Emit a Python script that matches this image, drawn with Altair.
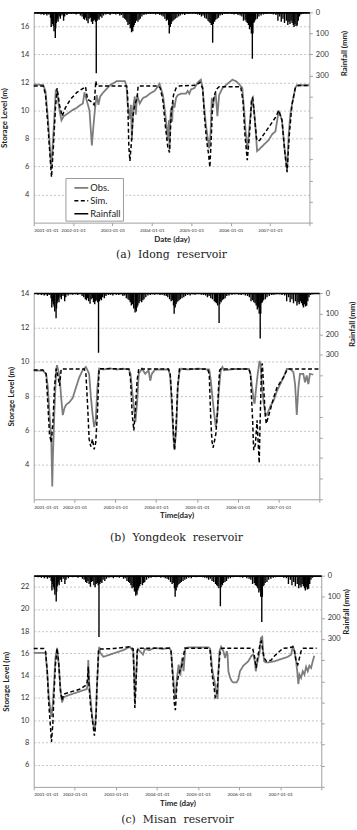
import altair as alt
import pandas as pd

SERIES = ["Obs.", "Sim.", "Rainfall"]
COLORS = ["#7d7d7d", "#000000", "#000000"]
DASHES = [[1, 0], [4, 2.5], [1, 0]]

# ---------------- Rainfall (shared, mm) ----------------
rain = [
    ("2001-01-15", 5), ("2001-02-10", 8), ("2001-02-25", 4), ("2001-03-10", 10), ("2001-03-22", 6),
    ("2001-04-05", 12), ("2001-04-20", 7), ("2001-05-03", 15), ("2001-05-20", 10), ("2001-06-05", 25),
    ("2001-06-12", 70), ("2001-06-18", 40), ("2001-06-25", 55), ("2001-07-02", 65), ("2001-07-08", 90),
    ("2001-07-20", 122), ("2001-07-24", 75), ("2001-07-29", 50), ("2001-08-03", 40), ("2001-08-08", 30),
    ("2001-08-15", 45), ("2001-08-25", 20), ("2001-09-05", 30), ("2001-09-20", 15), ("2001-10-05", 40),
    ("2001-10-15", 20), ("2001-11-05", 12), ("2001-11-25", 6), ("2001-12-15", 8),
    ("2002-01-10", 6), ("2002-01-30", 10), ("2002-02-20", 5), ("2002-03-10", 15), ("2002-03-25", 20),
    ("2002-04-08", 30), ("2002-04-18", 35), ("2002-04-28", 25), ("2002-05-08", 40), ("2002-05-20", 52),
    ("2002-05-30", 30), ("2002-06-10", 25), ("2002-06-20", 45), ("2002-07-01", 55), ("2002-07-10", 40),
    ("2002-07-20", 35), ("2002-07-28", 45), ("2002-08-04", 290), ("2002-08-12", 40), ("2002-08-20", 30),
    ("2002-08-30", 35), ("2002-09-10", 20), ("2002-09-25", 25), ("2002-10-10", 15), ("2002-11-01", 10),
    ("2002-11-20", 8), ("2002-12-10", 12),
    ("2003-01-10", 8), ("2003-02-01", 10), ("2003-02-20", 6), ("2003-03-10", 15), ("2003-03-25", 12),
    ("2003-04-10", 25), ("2003-04-25", 30), ("2003-05-05", 35), ("2003-05-15", 45), ("2003-05-25", 60),
    ("2003-06-05", 55), ("2003-06-15", 75), ("2003-06-27", 95), ("2003-07-02", 80), ("2003-07-08", 90),
    ("2003-07-15", 70), ("2003-07-22", 60), ("2003-08-01", 50), ("2003-08-10", 40), ("2003-08-25", 45),
    ("2003-09-05", 35), ("2003-09-15", 30), ("2003-10-01", 20), ("2003-10-20", 12), ("2003-11-10", 10),
    ("2003-12-01", 6), ("2003-12-20", 8),
    ("2004-01-15", 6), ("2004-02-05", 10), ("2004-02-25", 8), ("2004-03-15", 12), ("2004-04-01", 15),
    ("2004-04-15", 20), ("2004-05-01", 30), ("2004-05-15", 40), ("2004-05-25", 35), ("2004-06-05", 60),
    ("2004-06-11", 100), ("2004-06-20", 70), ("2004-06-28", 55), ("2004-07-05", 45), ("2004-07-15", 40),
    ("2004-07-25", 35), ("2004-08-05", 30), ("2004-08-20", 25), ("2004-09-05", 20), ("2004-09-20", 15),
    ("2004-10-10", 10), ("2004-11-01", 12), ("2004-11-25", 6), ("2004-12-15", 8),
    ("2005-01-15", 5), ("2005-02-10", 8), ("2005-03-01", 10), ("2005-03-20", 12), ("2005-04-05", 20),
    ("2005-04-20", 15), ("2005-05-05", 25), ("2005-05-20", 30), ("2005-06-05", 40), ("2005-06-15", 45),
    ("2005-06-25", 50), ("2005-07-05", 60), ("2005-07-18", 145), ("2005-07-24", 55), ("2005-07-30", 40),
    ("2005-08-05", 45), ("2005-08-15", 35), ("2005-08-28", 30), ("2005-09-10", 25), ("2005-09-25", 15),
    ("2005-10-15", 12), ("2005-11-10", 8), ("2005-12-05", 6),
    ("2006-01-10", 8), ("2006-02-01", 10), ("2006-02-20", 6), ("2006-03-10", 12), ("2006-03-30", 15),
    ("2006-04-15", 20), ("2006-04-30", 40), ("2006-05-15", 35), ("2006-05-25", 45), ("2006-06-05", 50),
    ("2006-06-15", 60), ("2006-06-25", 80), ("2006-07-05", 70), ("2006-07-12", 100), ("2006-07-21", 220),
    ("2006-07-26", 100), ("2006-08-02", 50), ("2006-08-10", 45), ("2006-08-20", 35), ("2006-09-05", 30),
    ("2006-09-20", 20), ("2006-10-10", 15), ("2006-11-01", 10), ("2006-11-20", 8), ("2006-12-10", 6),
    ("2007-01-10", 6), ("2007-02-01", 10), ("2007-02-25", 12), ("2007-03-15", 40), ("2007-04-01", 20),
    ("2007-04-15", 45), ("2007-05-01", 30), ("2007-05-15", 50), ("2007-06-01", 40), ("2007-06-15", 60),
    ("2007-06-25", 45), ("2007-07-05", 55), ("2007-07-15", 40), ("2007-07-25", 50), ("2007-08-05", 60),
    ("2007-08-12", 70), ("2007-08-20", 55), ("2007-08-30", 65), ("2007-09-10", 62), ("2007-09-20", 40),
    ("2007-10-01", 20), ("2007-10-15", 10), ("2007-11-05", 6), ("2007-12-01", 5),
]

# ---------------- (a) Idong reservoir ----------------
obs_a = [
    ("2001-01-01", 11.86), ("2001-03-30", 11.82), ("2001-04-20", 11.4), ("2001-05-12", 9.5), ("2001-05-30", 7.5),
    ("2001-06-12", 5.9), ("2001-06-20", 6.8), ("2001-07-06", 8.8), ("2001-07-25", 11.5), ("2001-08-06", 11.3),
    ("2001-08-22", 10.3), ("2001-09-15", 9.3), ("2001-10-07", 9.6), ("2001-11-15", 9.8), ("2001-12-20", 10.0),
    ("2002-02-06", 10.2), ("2002-02-21", 10.3), ("2002-04-02", 10.5), ("2002-04-17", 11.3), ("2002-05-08", 10.7),
    ("2002-06-02", 10.0), ("2002-06-24", 7.5), ("2002-07-10", 9.0), ("2002-07-24", 10.2), ("2002-08-09", 11.1),
    ("2002-08-24", 10.4), ("2002-09-09", 11.0), ("2002-10-09", 11.3), ("2002-12-10", 11.8), ("2003-02-09", 12.1),
    ("2003-04-26", 12.1), ("2003-05-12", 11.7), ("2003-05-21", 10.5), ("2003-06-12", 9.4), ("2003-06-21", 10.4),
    ("2003-06-30", 7.9), ("2003-07-12", 10.2), ("2003-07-27", 11.0), ("2003-08-05", 9.7), ("2003-08-18", 11.1),
    ("2003-09-11", 10.5), ("2003-10-12", 10.9), ("2003-11-11", 11.0), ("2003-12-12", 11.2), ("2004-01-27", 11.4),
    ("2004-03-13", 11.9), ("2004-04-13", 11.1), ("2004-05-07", 9.6), ("2004-05-28", 7.9), ("2004-06-07", 9.3),
    ("2004-06-13", 7.2), ("2004-06-20", 9.3), ("2004-06-28", 10.2), ("2004-07-08", 9.2), ("2004-07-14", 10.6),
    ("2004-07-29", 10.2), ("2004-08-13", 10.9), ("2004-08-29", 11.1), ("2004-09-28", 11.2), ("2004-11-13", 11.2),
    ("2004-11-28", 11.4), ("2004-12-14", 11.2), ("2004-12-29", 11.5), ("2005-01-30", 11.6), ("2005-03-01", 12.0),
    ("2005-03-31", 12.2), ("2005-04-16", 11.6), ("2005-05-01", 10.2), ("2005-05-16", 9.0), ("2005-06-01", 8.1),
    ("2005-06-16", 7.3), ("2005-06-28", 8.3), ("2005-07-04", 9.5), ("2005-07-10", 10.9), ("2005-07-22", 10.2),
    ("2005-07-31", 10.9), ("2005-08-16", 11.1), ("2005-08-31", 9.6), ("2005-09-16", 11.1), ("2005-10-17", 11.6),
    ("2005-12-02", 11.9), ("2006-01-17", 12.2), ("2006-02-17", 12.1), ("2006-03-19", 11.9), ("2006-04-19", 11.6),
    ("2006-05-04", 10.2), ("2006-05-19", 8.6), ("2006-06-04", 7.2), ("2006-06-20", 8.5), ("2006-07-04", 9.6),
    ("2006-07-19", 10.9), ("2006-08-04", 10.2), ("2006-08-19", 8.8), ("2006-09-03", 7.1), ("2006-09-18", 7.2),
    ("2006-12-20", 7.9), ("2007-01-20", 8.3), ("2007-02-20", 8.5), ("2007-03-23", 10.0), ("2007-04-22", 9.3),
    ("2007-05-08", 7.9), ("2007-05-17", 7.2), ("2007-06-08", 5.7), ("2007-06-23", 8.3), ("2007-07-08", 9.7),
    ("2007-07-23", 10.4), ("2007-08-08", 11.0), ("2007-08-23", 11.6), ("2007-09-07", 11.8), ("2007-12-31", 11.8),
]
sim_a = [
    ("2001-01-01", 11.74), ("2001-03-30", 11.74), ("2001-04-20", 11.15), ("2001-05-12", 9.0), ("2001-05-30", 7.0),
    ("2001-06-15", 5.25), ("2001-06-30", 7.1), ("2001-07-22", 10.2), ("2001-08-06", 11.6), ("2001-08-28", 10.4),
    ("2001-09-22", 9.6), ("2001-10-22", 10.2), ("2001-12-08", 10.8), ("2002-02-06", 11.3), ("2002-04-08", 11.6),
    ("2002-04-26", 11.7), ("2002-05-15", 10.8), ("2002-06-24", 10.6), ("2002-07-15", 10.4), ("2002-07-31", 12.1),
    ("2002-08-09", 11.75), ("2003-05-12", 11.75), ("2003-05-21", 11.2), ("2003-06-02", 7.4), ("2003-06-12", 6.4),
    ("2003-06-27", 7.85), ("2003-07-12", 9.7), ("2003-07-27", 10.4), ("2003-08-18", 10.9), ("2003-08-27", 11.75),
    ("2004-02-27", 11.75), ("2004-03-19", 11.6), ("2004-04-13", 10.7), ("2004-05-07", 8.8), ("2004-05-28", 7.4),
    ("2004-06-13", 7.0), ("2004-06-28", 9.7), ("2004-07-20", 11.1), ("2004-08-13", 11.6), ("2004-09-13", 11.75),
    ("2005-02-14", 11.8), ("2005-03-22", 12.0), ("2005-04-16", 11.6), ("2005-05-04", 9.5), ("2005-05-23", 7.85),
    ("2005-06-10", 6.9), ("2005-06-22", 5.95), ("2005-07-04", 7.85), ("2005-07-16", 10.2), ("2005-07-31", 11.0),
    ("2005-08-22", 11.5), ("2005-09-16", 11.7), ("2006-04-04", 11.7), ("2006-04-25", 10.7), ("2006-05-13", 8.3),
    ("2006-06-04", 6.45), ("2006-06-25", 8.3), ("2006-07-13", 10.7), ("2006-07-25", 10.9), ("2006-08-13", 9.3),
    ("2006-08-31", 7.85), ("2006-09-25", 7.85), ("2006-12-20", 8.8), ("2007-02-20", 9.5), ("2007-03-23", 10.0),
    ("2007-04-22", 9.3), ("2007-05-17", 7.1), ("2007-06-08", 5.6), ("2007-06-29", 8.3), ("2007-07-23", 10.4),
    ("2007-08-23", 11.6), ("2007-09-22", 11.79), ("2007-12-31", 11.79),
]

# ---------------- (b) Yongdeok reservoir ----------------
obs_b = [
    ("2001-01-01", 9.48), ("2001-03-25", 9.48), ("2001-04-22", 9.3), ("2001-05-08", 8.5), ("2001-05-22", 7.0),
    ("2001-06-07", 5.5), ("2001-06-16", 2.75), ("2001-06-22", 4.5), ("2001-07-06", 7.3), ("2001-07-21", 9.5),
    ("2001-07-28", 9.8), ("2001-08-20", 9.2), ("2001-09-04", 7.9), ("2001-09-18", 6.9), ("2001-10-03", 7.3),
    ("2001-10-18", 7.5), ("2001-11-17", 7.65), ("2001-12-16", 7.9), ("2002-01-14", 8.5), ("2002-02-13", 9.1),
    ("2002-03-14", 9.5), ("2002-04-13", 9.7), ("2002-05-12", 9.3), ("2002-05-27", 8.0), ("2002-06-11", 7.0),
    ("2002-06-26", 6.2), ("2002-07-10", 6.6), ("2002-07-25", 8.5), ("2002-08-09", 9.6), ("2002-09-20", 9.55),
    ("2002-11-10", 9.62), ("2003-01-15", 9.55), ("2003-03-10", 9.6), ("2003-05-03", 9.55), ("2003-05-17", 9.3),
    ("2003-06-01", 8.3), ("2003-06-16", 7.4), ("2003-06-30", 6.5), ("2003-07-15", 7.6), ("2003-07-30", 9.3),
    ("2003-08-28", 9.6), ("2003-09-26", 9.3), ("2003-10-26", 9.5), ("2003-11-10", 8.9), ("2003-11-24", 9.3),
    ("2003-12-24", 9.55), ("2004-04-21", 9.55), ("2004-05-06", 9.2), ("2004-05-21", 7.5), ("2004-06-05", 5.5),
    ("2004-06-14", 4.9), ("2004-06-29", 6.0), ("2004-07-13", 8.5), ("2004-07-28", 9.4), ("2004-08-12", 9.6),
    ("2004-10-10", 9.55), ("2005-01-10", 9.6), ("2005-04-21", 9.55), ("2005-05-05", 8.9), ("2005-05-20", 7.9),
    ("2005-06-04", 7.0), ("2005-06-19", 6.2), ("2005-07-03", 7.0), ("2005-07-18", 8.5), ("2005-08-02", 9.5),
    ("2005-08-17", 9.7), ("2005-09-01", 9.5), ("2005-12-01", 9.58), ("2006-04-11", 9.58), ("2006-04-25", 9.3),
    ("2006-05-10", 8.5), ("2006-05-24", 7.75), ("2006-06-01", 7.56), ("2006-06-15", 8.5), ("2006-06-29", 9.3),
    ("2006-07-15", 10.05), ("2006-07-25", 9.86), ("2006-08-06", 8.5), ("2006-08-21", 7.6), ("2006-09-05", 7.0),
    ("2006-09-19", 6.9), ("2006-10-19", 7.4), ("2006-11-18", 7.75), ("2006-12-18", 8.3), ("2007-01-16", 8.7),
    ("2007-02-15", 9.1), ("2007-03-16", 9.58), ("2007-04-15", 9.58), ("2007-05-14", 9.4), ("2007-05-29", 8.7),
    ("2007-06-05", 7.9), ("2007-06-13", 6.9), ("2007-06-28", 8.5), ("2007-07-12", 9.3), ("2007-08-11", 9.3),
    ("2007-08-26", 8.8), ("2007-09-10", 9.2), ("2007-09-25", 8.7), ("2007-10-09", 9.3), ("2007-11-08", 9.25),
]
sim_b = [
    ("2001-01-01", 9.52), ("2001-03-25", 9.52), ("2001-04-22", 9.3), ("2001-05-08", 7.5), ("2001-05-22", 5.8),
    ("2001-06-07", 5.3), ("2001-06-22", 6.5), ("2001-07-06", 8.5), ("2001-07-21", 9.6), ("2001-08-05", 9.2),
    ("2001-08-20", 8.6), ("2001-09-04", 9.58), ("2002-03-29", 9.58), ("2002-04-13", 9.3), ("2002-04-28", 7.5),
    ("2002-05-12", 5.5), ("2002-05-27", 5.06), ("2002-06-11", 5.5), ("2002-06-26", 4.9), ("2002-07-10", 5.3),
    ("2002-07-25", 7.0), ("2002-08-09", 9.6), ("2003-05-03", 9.58), ("2003-05-17", 9.0), ("2003-06-01", 7.0),
    ("2003-06-16", 6.0), ("2003-06-30", 7.2), ("2003-07-15", 8.9), ("2003-07-30", 9.58), ("2004-04-21", 9.58),
    ("2004-05-06", 9.3), ("2004-05-21", 7.9), ("2004-06-05", 5.8), ("2004-06-14", 4.86), ("2004-06-29", 6.4),
    ("2004-07-13", 8.6), ("2004-07-28", 9.58), ("2005-04-06", 9.58), ("2005-04-21", 9.3), ("2005-04-28", 7.9),
    ("2005-05-05", 6.6), ("2005-05-15", 5.4), ("2005-05-25", 5.0), ("2005-06-04", 5.3), ("2005-06-19", 5.8),
    ("2005-07-03", 7.0), ("2005-07-13", 8.5), ("2005-07-23", 9.5), ("2005-08-02", 9.58), ("2006-04-11", 9.58),
    ("2006-04-25", 9.3), ("2006-05-05", 7.8), ("2006-05-15", 6.5), ("2006-05-20", 5.44), ("2006-05-24", 4.86),
    ("2006-06-08", 5.2), ("2006-06-23", 6.6), ("2006-07-02", 5.4), ("2006-07-12", 4.1), ("2006-07-18", 5.9),
    ("2006-07-28", 8.5), ("2006-08-03", 9.7), ("2006-08-09", 9.9), ("2006-08-21", 8.5), ("2006-09-05", 6.8),
    ("2006-09-14", 6.4), ("2006-10-19", 7.2), ("2006-11-18", 7.9), ("2006-12-18", 8.5), ("2007-01-16", 8.8),
    ("2007-02-15", 9.1), ("2007-03-16", 9.5), ("2007-03-31", 9.58), ("2007-12-31", 9.58),
]

# ---------------- (c) Misan reservoir ----------------
obs_c = [
    ("2001-01-01", 16.05), ("2001-04-16", 16.05), ("2001-05-01", 14.4), ("2001-05-15", 12.06), ("2001-05-30", 10.9),
    ("2001-06-08", 10.3), ("2001-06-20", 11.5), ("2001-06-29", 13.0), ("2001-07-13", 15.6), ("2001-07-28", 16.5),
    ("2001-08-12", 15.0), ("2001-08-27", 12.65), ("2001-09-10", 11.6), ("2001-09-25", 12.06), ("2001-10-24", 12.2),
    ("2001-12-22", 12.4), ("2002-02-19", 12.6), ("2002-04-18", 12.8), ("2002-04-26", 13.3), ("2002-05-01", 15.4),
    ("2002-05-08", 13.5), ("2002-05-20", 12.06), ("2002-06-05", 10.3), ("2002-06-14", 9.7), ("2002-06-24", 9.1),
    ("2002-07-01", 9.4), ("2002-07-10", 10.9), ("2002-07-15", 12.65), ("2002-07-24", 14.4), ("2002-08-01", 16.2),
    ("2002-08-07", 16.6), ("2002-08-13", 16.1), ("2002-09-12", 15.7), ("2002-12-10", 16.0), ("2003-03-08", 16.3),
    ("2003-05-06", 16.6), ("2003-06-04", 16.2), ("2003-06-12", 14.4), ("2003-06-19", 11.8), ("2003-06-26", 13.5),
    ("2003-07-03", 14.4), ("2003-07-10", 16.2), ("2003-07-17", 16.4), ("2003-08-30", 15.9), ("2003-09-15", 16.4),
    ("2003-10-28", 16.3), ("2003-12-10", 16.5), ("2004-02-22", 16.4), ("2004-04-21", 16.5), ("2004-05-06", 16.2),
    ("2004-05-20", 14.4), ("2004-06-04", 12.65), ("2004-06-13", 11.9), ("2004-06-27", 13.8), ("2004-07-12", 15.0),
    ("2004-07-27", 14.0), ("2004-08-11", 15.6), ("2004-08-25", 14.4), ("2004-09-09", 16.5), ("2004-10-08", 16.55),
    ("2005-04-04", 16.55), ("2005-04-19", 16.4), ("2005-04-27", 15.6), ("2005-05-09", 14.4), ("2005-05-27", 13.5),
    ("2005-06-10", 12.65), ("2005-06-23", 11.9), ("2005-07-01", 14.4), ("2005-07-10", 16.2), ("2005-07-24", 16.6),
    ("2005-08-14", 16.2), ("2005-08-29", 15.6), ("2005-09-13", 16.2), ("2005-09-20", 15.9), ("2005-09-27", 14.4),
    ("2005-10-12", 13.84), ("2005-10-27", 13.5), ("2005-11-10", 13.4), ("2005-12-10", 13.4), ("2005-12-25", 13.7),
    ("2006-01-08", 14.4), ("2006-02-07", 14.9), ("2006-03-23", 15.3), ("2006-04-21", 15.8), ("2006-05-06", 15.9),
    ("2006-05-20", 15.3), ("2006-05-29", 14.4), ("2006-06-07", 15.0), ("2006-06-19", 15.5), ("2006-07-03", 16.2),
    ("2006-07-13", 17.4), ("2006-07-25", 17.5), ("2006-08-02", 16.2), ("2006-08-11", 15.3), ("2006-08-23", 15.2),
    ("2006-09-15", 15.2), ("2006-11-13", 15.3), ("2007-01-10", 15.5), ("2007-03-10", 15.7), ("2007-04-08", 15.9),
    ("2007-04-23", 16.7), ("2007-05-08", 16.2), ("2007-05-22", 15.3), ("2007-06-01", 14.4), ("2007-06-11", 13.25),
    ("2007-06-21", 14.1), ("2007-07-05", 13.8), ("2007-07-20", 14.4), ("2007-08-04", 14.1), ("2007-08-19", 14.8),
    ("2007-09-03", 14.4), ("2007-09-17", 14.9), ("2007-10-02", 14.7), ("2007-10-17", 15.3), ("2007-10-31", 15.8),
]
sim_c = [
    ("2001-01-01", 16.45), ("2001-04-01", 16.45), ("2001-04-16", 16.2), ("2001-05-01", 14.4), ("2001-05-15", 11.46),
    ("2001-05-30", 9.4), ("2001-06-08", 8.04), ("2001-06-20", 9.7), ("2001-06-29", 12.06), ("2001-07-13", 15.0),
    ("2001-07-28", 16.46), ("2001-08-12", 15.0), ("2001-08-27", 12.65), ("2001-09-10", 11.76), ("2001-09-25", 12.35),
    ("2002-02-19", 12.8), ("2002-04-18", 13.2), ("2002-04-26", 14.0), ("2002-05-01", 14.8), ("2002-05-08", 13.0),
    ("2002-05-22", 11.2), ("2002-06-14", 9.4), ("2002-06-24", 8.6), ("2002-07-01", 9.1), ("2002-07-10", 10.6),
    ("2002-07-15", 12.4), ("2002-07-24", 14.7), ("2002-08-01", 16.4), ("2002-09-12", 16.4), ("2002-12-10", 16.45),
    ("2003-05-06", 16.6), ("2003-06-04", 16.4), ("2003-06-12", 14.0), ("2003-06-19", 11.1), ("2003-06-26", 12.5),
    ("2003-07-03", 14.4), ("2003-07-10", 16.2), ("2003-07-17", 16.46), ("2004-04-21", 16.46), ("2004-05-06", 16.2),
    ("2004-05-20", 14.0), ("2004-06-04", 11.5), ("2004-06-13", 10.9), ("2004-06-27", 13.25), ("2004-07-12", 14.1),
    ("2004-08-11", 15.0), ("2004-09-05", 16.46), ("2005-04-04", 16.46), ("2005-04-19", 16.2), ("2005-04-27", 15.0),
    ("2005-05-09", 13.84), ("2005-05-23", 12.95), ("2005-06-02", 12.06), ("2005-06-17", 12.35), ("2005-07-01", 14.4),
    ("2005-07-16", 16.2), ("2005-07-30", 16.46), ("2006-05-01", 16.46), ("2006-05-20", 15.6), ("2006-06-01", 14.7),
    ("2006-06-13", 15.6), ("2006-06-25", 16.2), ("2006-07-07", 17.0), ("2006-07-18", 17.1), ("2006-07-30", 16.2),
    ("2006-08-11", 15.6), ("2006-08-31", 15.3), ("2006-10-12", 15.4), ("2006-11-13", 15.8), ("2006-12-27", 16.2),
    ("2007-01-25", 16.46), ("2007-03-10", 16.5), ("2007-04-23", 16.6), ("2007-05-08", 16.2), ("2007-05-22", 15.3),
    ("2007-06-06", 15.0), ("2007-06-21", 15.6), ("2007-07-05", 16.2), ("2007-07-20", 16.46), ("2007-11-20", 16.46),
]

YEARS = [alt.DateTime(year=y, month=1, date=1, utc=True) for y in range(2001, 2009)]
XSCALE = alt.Scale(type="utc", domain=[YEARS[0], YEARS[-1]], nice=False)
RAIN_TICKS = list(range(0, 1001, 100))


def panel(obs, sim, ydom, yticks, w, h, xtitle, caption, cap_off, lx, ly, ext, tpad, rtx, rty):
    d_obs = pd.DataFrame(obs, columns=["date", "level"]).assign(series="Obs.")
    d_sim = pd.DataFrame(sim, columns=["date", "level"]).assign(series="Sim.")
    d_rain = pd.DataFrame(rain, columns=["date", "mm"]).assign(series="Rainfall")

    leg = alt.Legend(
        title=None, orient="none", legendX=lx, legendY=ly, strokeColor="#9a9a9a",
        fillColor="white", padding=2, labelFont="Lato", labelFontSize=9.5, labelColor="#222",
        symbolType="stroke", symbolSize=196, symbolStrokeWidth=1.6, symbolOffset=6,
        rowPadding=0, labelOffset=1, labelExpr="datum.label + '\u00a0'",
    )
    color = alt.Color("series:N", scale=alt.Scale(domain=SERIES, range=COLORS), legend=leg, sort=SERIES)
    dash = alt.StrokeDash("series:N", scale=alt.Scale(domain=SERIES, range=DASHES), legend=leg, sort=SERIES)

    x = alt.X(
        "date:T", scale=XSCALE, title=xtitle,
        axis=alt.Axis(
            orient="bottom", values=YEARS, format="%Y-%m-%d", labelOverlap=False,
            labelExpr="utcyear(datum.value) == 2008 ? '' : datum.label",
            labelFontSize=4.6, labelPadding=2, tickSize=3, tickColor="#a0a0a0", domain=False,
            grid=False, titleFontSize=8, titleFontWeight="bold", titlePadding=3,
        ),
    )
    y = alt.Y(
        "level:Q", scale=alt.Scale(domain=ydom, nice=False, zero=False), title="Storage Level (m)",
        axis=alt.Axis(
            orient="left", values=yticks, grid=True, gridDash=[2, 2], gridColor="#b4b4b4",
            gridWidth=0.8, ticks=False, domain=False, labelFontSize=7.5, labelPadding=5,
            minExtent=ext, maxExtent=ext, titleFontSize=8, titleFontWeight="bold", titlePadding=tpad,
        ),
    )
    obs_l = alt.Chart(d_obs).mark_line(strokeWidth=1.8).encode(x=x, y=y, color=color, strokeDash=dash)
    sim_l = alt.Chart(d_sim).mark_line(strokeWidth=1.5).encode(x=x, y=y, color=color, strokeDash=dash)

    rain_l = alt.Chart(d_rain).mark_rule(strokeWidth=1.4).encode(
        x=alt.X("date:T", scale=XSCALE, axis=alt.Axis(
            orient="top", labels=False, ticks=False, domain=True, domainColor="#000000",
            domainWidth=1.6, grid=False, title=None)),
        y=alt.Y("mm:Q", scale=alt.Scale(domain=[0, 1000], reverse=True, nice=False), title="Rainfall (mm)",
                axis=alt.Axis(
                    orient="right", values=RAIN_TICKS,
                    labelExpr="datum.value <= 300 ? datum.label : ''",
                    grid=False, tickSize=3, tickColor="#a0a0a0", domain=False, labelFontSize=7.5,
                    labelPadding=3, titleFontSize=8, titleFontWeight="bold", titleAngle=270,
                    titleX=rtx, titleY=rty, titleAlign="center", titleBaseline="middle")),
        y2=alt.datum(0),
        color=color, strokeDash=dash,
    )
    lines = alt.layer(obs_l, sim_l)
    return alt.layer(lines, rain_l).resolve_scale(x="independent", y="independent").properties(
        width=w, height=h,
        title=alt.TitleParams(
            text=caption, orient="bottom", anchor="middle", font="DejaVu Serif", fontSize=11,
            fontWeight="normal", color="#222222", offset=cap_off,
        ),
    )


pa = panel(obs_a, sim_a, [2, 17], [4, 6, 8, 10, 12, 14, 16], 278, 212, "Date (day)",
           "(a)\u00a0\u00a0Idong\u00a0\u00a0reservoir", 6, 32, 167, 20, 5, 35, 41)
pb = panel(obs_b, sim_b, [2, 14], [4, 6, 8, 10, 12, 14], 288, 208, "Time(day)",
           "(b)\u00a0\u00a0Yongdeok\u00a0\u00a0reservoir", 12, 34, 167, 14, 4, 33, 31)
pc = panel(obs_c, sim_c, [4, 23], [6, 8, 10, 12, 14, 16, 18, 20, 22], 290, 213, "Time (day)",
           "(c)\u00a0\u00a0Misan\u00a0\u00a0reservoir", 7, 28, 172, 18, 5, 25, 36)

chart = alt.ConcatChart(concat=[pa, pb, pc], columns=1, spacing=27, align="none").properties(
    padding={"left": 0, "top": 4, "right": 0, "bottom": 0},
    background="white",
).configure_view(stroke="#a0a0a0", strokeWidth=1).configure_axis(
    labelFont="Lato", titleFont="Lato", labelColor="#333333", titleColor="#222222",
)

chart.save("out.html", embed_options={"renderer": "svg", "actions": False})
